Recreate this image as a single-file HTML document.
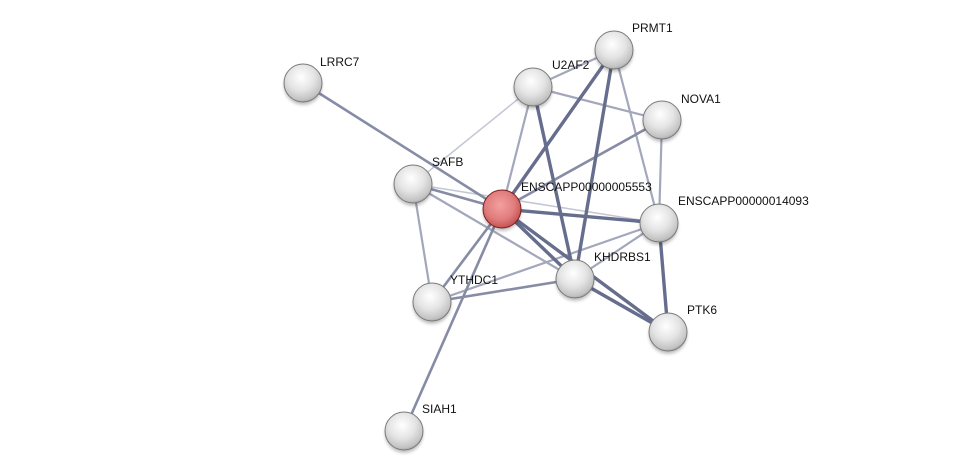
<!DOCTYPE html>
<html><head><meta charset="utf-8"><style>
html,body{margin:0;padding:0;background:#fff;}
svg{display:block;}
text{font-family:"Liberation Sans",sans-serif;font-size:12px;fill:#111;}
</style></head><body>
<svg width="976" height="476" viewBox="0 0 976 476" xmlns="http://www.w3.org/2000/svg">
<defs>
<radialGradient id="g" cx="0.45" cy="0.35" r="0.7">
<stop offset="0" stop-color="#ffffff"/><stop offset="0.5" stop-color="#e4e4e4"/><stop offset="0.85" stop-color="#c2c2c2"/><stop offset="1" stop-color="#8f8f8f"/>
</radialGradient>
<radialGradient id="r" cx="0.45" cy="0.4" r="0.7">
<stop offset="0" stop-color="#f4a0a0"/><stop offset="0.55" stop-color="#e07c7c"/><stop offset="0.9" stop-color="#c24c4c"/><stop offset="1" stop-color="#8a2020"/>
</radialGradient>
<filter id="sh" x="-50%" y="-50%" width="200%" height="200%"><feGaussianBlur stdDeviation="1.5"/></filter>
</defs>
<g stroke-linecap="round" fill="none">
<g stroke="#c3c6d4" stroke-width="1.5">
<line x1="533" y1="87" x2="413" y2="184"/>
<line x1="413" y1="184" x2="659" y2="223"/>
</g>
<g stroke="#a3a7bb" stroke-width="2.2">
<line x1="533" y1="87" x2="614" y2="50"/>
<line x1="533" y1="87" x2="662" y2="120"/>
<line x1="533" y1="87" x2="502" y2="209"/>
<line x1="614" y1="50" x2="659" y2="223"/>
<line x1="662" y1="120" x2="659" y2="223"/>
<line x1="413" y1="184" x2="432" y2="302"/>
<line x1="413" y1="184" x2="575" y2="279"/>
<line x1="659" y1="223" x2="432" y2="302"/>
<line x1="659" y1="223" x2="575" y2="279"/>
</g>
<g stroke="#878ca6" stroke-width="2.6">
<line x1="303" y1="83" x2="502" y2="209"/>
<line x1="662" y1="120" x2="502" y2="209"/>
<line x1="413" y1="184" x2="502" y2="209"/>
<line x1="502" y1="209" x2="432" y2="302"/>
<line x1="502" y1="209" x2="404" y2="431"/>
<line x1="575" y1="279" x2="432" y2="302"/>
</g>
<g stroke="#676d8d" stroke-width="3.4">
<line x1="533" y1="87" x2="575" y2="279"/>
<line x1="614" y1="50" x2="502" y2="209"/>
<line x1="614" y1="50" x2="575" y2="279"/>
<line x1="502" y1="209" x2="659" y2="223"/>
<line x1="502" y1="209" x2="575" y2="279"/>
<line x1="502" y1="209" x2="668" y2="332"/>
<line x1="659" y1="223" x2="668" y2="332"/>
<line x1="575" y1="279" x2="668" y2="332"/>
</g>
</g>
<g fill="#000" opacity="0.25" filter="url(#sh)">
<circle cx="303" cy="86" r="19"/><circle cx="533" cy="90" r="19"/><circle cx="614" cy="53" r="19"/>
<circle cx="662" cy="123" r="19"/><circle cx="413" cy="187" r="19"/><circle cx="659" cy="226" r="19"/>
<circle cx="575" cy="282" r="19"/><circle cx="432" cy="305" r="19"/><circle cx="668" cy="335" r="19"/>
<circle cx="404" cy="434" r="19"/><circle cx="502" cy="212" r="19"/>
</g>
<g stroke="#7a7a7a" stroke-width="1">
<circle cx="303" cy="83" r="19" fill="url(#g)"/>
<circle cx="533" cy="87" r="19" fill="url(#g)"/>
<circle cx="614" cy="50" r="19" fill="url(#g)"/>
<circle cx="662" cy="120" r="19" fill="url(#g)"/>
<circle cx="413" cy="184" r="19" fill="url(#g)"/>
<circle cx="659" cy="223" r="19" fill="url(#g)"/>
<circle cx="575" cy="279" r="19" fill="url(#g)"/>
<circle cx="432" cy="302" r="19" fill="url(#g)"/>
<circle cx="668" cy="332" r="19" fill="url(#g)"/>
<circle cx="404" cy="431" r="19" fill="url(#g)"/>
<circle cx="502" cy="209" r="19" fill="url(#r)" stroke="#7a2020"/>
</g>
<text x="320" y="66">LRRC7</text>
<text x="552" y="69">U2AF2</text>
<text x="632" y="32">PRMT1</text>
<text x="681" y="103">NOVA1</text>
<text x="432" y="166">SAFB</text>
<text x="521" y="191">ENSCAPP00000005553</text>
<text x="678" y="205">ENSCAPP00000014093</text>
<text x="594" y="261">KHDRBS1</text>
<text x="450" y="284">YTHDC1</text>
<text x="687" y="314">PTK6</text>
<text x="422" y="413">SIAH1</text>
</svg>
</body></html>
